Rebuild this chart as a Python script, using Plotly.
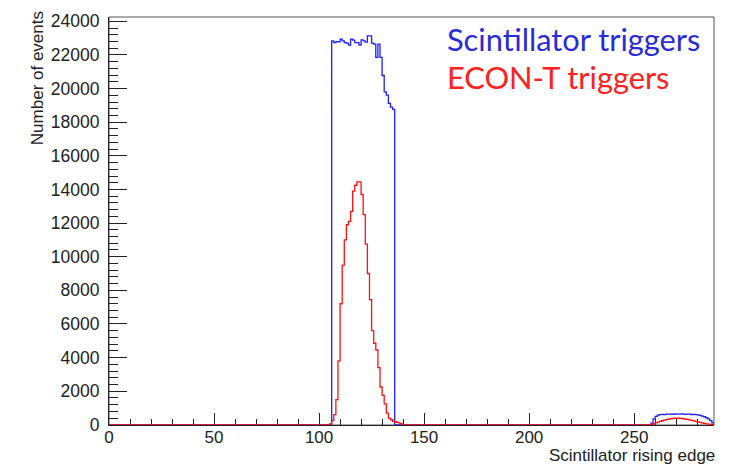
import numpy as np
import plotly.graph_objects as go

# ---------------- data ----------------
n_bins = 288
x_min, x_max = 0, 288

blue_main_start = 106
blue_main = [22840, 22740, 22800, 22780, 22940, 22840, 22740, 22700, 22590, 22940,
             22880, 22740, 22740, 22590, 22900, 22840, 22760, 23140, 23140, 22700,
             22650, 21860, 22650, 21860, 20780, 19800, 19610, 19120, 18900, 18760]

red_main_start = 105
red_main = [50, 250, 600, 1500, 3800, 7200, 9500, 11000, 11900, 12100,
            12700, 13900, 14250, 14450, 14450, 13700, 12500, 10750, 9000, 7450,
            5600, 4850, 4450, 3400, 2250, 1750, 1250, 700, 400, 300,
            200, 180, 150, 100, 50]

bump_start = 258
blue_bump = [100, 350, 500, 570, 600, 620, 610, 640, 630, 640,
             620, 650, 640, 630, 650, 640, 620, 640, 630, 610,
             620, 600, 590, 560, 520, 480, 420, 350, 250, 120]
red_bump = [20, 60, 110, 160, 200, 240, 280, 310, 340, 360,
            380, 390, 400, 390, 380, 360, 340, 320, 290, 260,
            230, 200, 170, 140, 110, 80, 60, 40, 20, 10]

x_title = "Scintillator rising edge"
y_title = "Number of events"
legend_blue = "Scintillator triggers"
legend_red = "ECON-T triggers"

# ---------------- build histograms ----------------
def fill(segments):
    c = np.zeros(n_bins)
    for start, vals in segments:
        c[start:start + len(vals)] = vals
    return c

blue_counts = fill([(blue_main_start, blue_main), (bump_start, blue_bump)])
red_counts = fill([(red_main_start, red_main), (bump_start, red_bump)])
edges = np.arange(x_min, x_max + 1)

def step_y(c):
    return np.append(c, c[-1])

fig = go.Figure()
fig.add_trace(go.Scatter(x=edges, y=step_y(blue_counts), mode="lines",
                         line=dict(color="#1f1fff", width=1.3, shape="hv"),
                         showlegend=False, hoverinfo="skip"))
fig.add_trace(go.Scatter(x=edges, y=step_y(red_counts), mode="lines",
                         line=dict(color="#ff1010", width=1.3, shape="hv"),
                         showlegend=False, hoverinfo="skip"))

L, R, T, B = 108.5, 20.7, 12.5, 39
W, H = 735, 464
pw = W - L - R
ph = H - T - B

font_axis = dict(family="Liberation Sans, Arial, sans-serif", size=17, color="#222")
font_ticks = dict(family="Liberation Sans, Arial, sans-serif", size=17.5, color="#222")
font_xticks = dict(family="Liberation Sans, Arial, sans-serif", size=17, color="#222")

fig.update_layout(
    width=W, height=H,
    margin=dict(l=L, r=R, t=T, b=B, pad=0),
    paper_bgcolor="white", plot_bgcolor="white",
    showlegend=False,
    xaxis=dict(range=[x_min, x_max], tickmode="linear", tick0=0, dtick=50,
               tickformat="d",
               ticks="inside", ticklen=12, tickwidth=1, tickcolor="#222",
               minor=dict(ticks="inside", ticklen=6, dtick=10, tick0=0, tickcolor="#222"),
               showline=True, linecolor="#222", linewidth=1, mirror=False,
               showgrid=False, zeroline=False, tickfont=font_xticks,
               layer="below traces", ticklabelstandoff=-3),
    yaxis=dict(range=[-12, 24260], tickmode="linear", tick0=0, dtick=2000,
               tickformat="d",
               ticks="inside", ticklen=18, tickwidth=1, tickcolor="#222",
               minor=dict(ticks="inside", ticklen=9, dtick=400, tick0=0, tickcolor="#222"),
               showline=True, linecolor="#222", linewidth=1, mirror=False,
               showgrid=False, zeroline=False, tickfont=font_ticks,
               layer="below traces", ticklabelstandoff=5),
)

# frame (top/right)
fig.add_shape(type="rect", xref="paper", yref="paper", x0=0, x1=1, y0=0, y1=1,
              line=dict(color="#555", width=1), layer="below")

def px_x(p):
    return (p - L) / pw

def px_y(p):
    return (H - B - p) / ph

fig.add_annotation(text=y_title, textangle=-90, xref="paper", yref="paper",
                   x=px_x(37), y=px_y(5), xanchor="center", yanchor="top",
                   showarrow=False, font=font_axis)
fig.add_annotation(text=x_title, xref="paper", yref="paper",
                   x=px_x(717), y=px_y(456), xanchor="right", yanchor="middle",
                   showarrow=False, font=font_axis)

leg_font = "Lato, Carlito, Calibri, sans-serif"
fig.add_annotation(text=legend_blue, xref="paper", yref="paper",
                   x=px_x(445), y=px_y(35), xanchor="left", yanchor="middle",
                   showarrow=False, font=dict(family=leg_font, size=30.8, color="#2b2bd6"))
fig.add_annotation(text=legend_red, xref="paper", yref="paper",
                   x=px_x(445), y=px_y(74), xanchor="left", yanchor="middle",
                   showarrow=False, font=dict(family=leg_font, size=30.8, color="#ff2020"))

fig.write_html("out.html")
